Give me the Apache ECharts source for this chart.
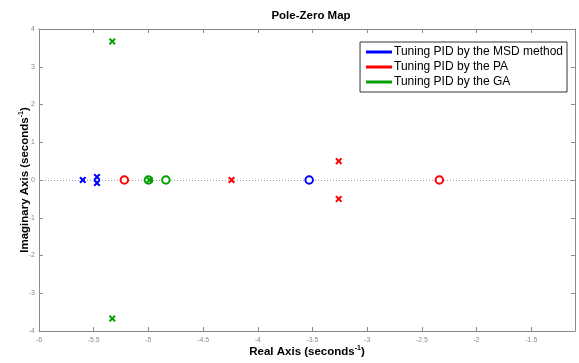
<!DOCTYPE html>
<html>
<head>
<meta charset="utf-8">
<script src="https://cdn.jsdelivr.net/npm/echarts@6/dist/echarts.min.js"></script>
<style>
  html, body { margin: 0; padding: 0; background: #fff; }
  #chart { width: 579px; height: 363px; }
</style>
</head>
<body>
<div id="chart"></div>
<script>
// series names (legend)
const methodNames = ['Tuning PID by the MSD method', 'Tuning PID by the PA', 'Tuning PID by the GA'];
const methodColors = ['#0000ff', '#ff0000', '#00a000'];

// poles / zeros: [real, imag]
const msdPoles = [[-5.6, 0], [-5.47, 0.08], [-5.47, -0.08]];
const msdZeros = [[-3.53, 0]];
const paPoles = [[-4.24, 0], [-3.26, 0.5], [-3.26, -0.5]];
const paZeros = [[-5.22, 0], [-2.34, 0]];
const gaPoles = [[-5.33, 3.67], [-5.33, -3.67], [-4.99, 0]];
const gaZeros = [[-5.0, 0], [-4.84, 0]];

// axis ranges
const xMin = -6, xMax = -1.1, xStep = 0.5;
const yMin = -4, yMax = 4, yStep = 1;

const font = "'Liberation Sans', Arial, sans-serif";
const crossPath = 'path://M2,0L5,3L8,0L10,2L7,5L10,8L8,10L5,7L2,10L0,8L3,5L0,2Z';

const chart = echarts.init(document.getElementById('chart'));

function poleSeries(name, color, data) {
  return {
    name: name,
    type: 'scatter',
    data: data,
    symbol: crossPath,
    symbolSize: 7,
    itemStyle: { color: color, opacity: 1 },
    z: 4
  };
}

function zeroSeries(name, color, data) {
  return {
    name: name,
    type: 'scatter',
    data: data,
    symbol: 'emptyCircle',
    symbolSize: 7.5,
    itemStyle: { color: color, borderColor: color, borderWidth: 2.6, opacity: 1 },
    z: 3
  };
}

const axisGray = '#8a8a8a';
const tickLabel = { color: '#8a8a8a', fontSize: 7, fontFamily: font };

const series = [
  poleSeries(methodNames[0], methodColors[0], msdPoles),
  zeroSeries(methodNames[0], methodColors[0], msdZeros),
  poleSeries(methodNames[1], methodColors[1], paPoles),
  zeroSeries(methodNames[1], methodColors[1], paZeros),
  poleSeries(methodNames[2], methodColors[2], gaPoles),
  zeroSeries(methodNames[2], methodColors[2], gaZeros)
];

// dotted line on the real axis
series[0].markLine = {
  silent: true,
  symbol: 'none',
  label: { show: false },
  lineStyle: { color: '#9a9a9a', type: [1, 2], width: 1 },
  data: [{ yAxis: 0 }],
  z: 1
};

const nameStyle = {
  fontSize: 11.5, fontWeight: 'bold', color: '#000', fontFamily: font,
  rich: { sup: { fontSize: 7, fontWeight: 'bold', color: '#000', fontFamily: font, verticalAlign: 'top', padding: [0, 0, 6, 0] } }
};

const option = {
  animation: false,
  backgroundColor: '#fff',
  title: {
    text: 'Pole-Zero Map',
    left: 306,
    top: 5,
    textAlign: 'center',
    textStyle: { fontSize: 11.5, fontWeight: 'bold', color: '#000', fontFamily: font }
  },
  legend: {
    orient: 'vertical',
    right: 12,
    top: 42,
    data: methodNames.map((n, i) => ({ name: n, icon: 'rect', itemStyle: { color: methodColors[i] } })),
    itemWidth: 26,
    itemHeight: 3,
    itemGap: 1,
    padding: [3, 4, 3, 6],
    borderColor: '#333',
    borderWidth: 1,
    backgroundColor: '#fff',
    textStyle: { fontSize: 12, color: '#000', fontFamily: font, lineHeight: 14, padding: [0, 0, 0, -3] }
  },
  grid: { left: 39, right: 4, top: 29, bottom: 32, outerBoundsMode: 'none', containLabel: false },
  xAxis: [
    {
      type: 'value',
      min: xMin, max: xMax, interval: xStep,
      name: 'Real Axis (seconds{sup|-1})',
      nameLocation: 'middle',
      nameGap: 14,
      nameMoveOverlap: false,
      nameTextStyle: nameStyle,
      axisLine: { show: true, onZero: false, lineStyle: { color: axisGray } },
      axisTick: { show: true, inside: true, length: 4, lineStyle: { color: axisGray } },
      axisLabel: Object.assign({ showMaxLabel: false, margin: 6 }, tickLabel),
      splitLine: { show: false }
    },
    {
      type: 'value', position: 'top',
      min: xMin, max: xMax, interval: xStep,
      axisLine: { show: true, onZero: false, lineStyle: { color: axisGray } },
      axisTick: { show: true, inside: true, length: 4, lineStyle: { color: axisGray } },
      axisLabel: { show: false },
      splitLine: { show: false }
    }
  ],
  yAxis: [
    {
      type: 'value',
      min: yMin, max: yMax, interval: yStep,
      name: 'Imaginary Axis (seconds{sup|-1})',
      nameLocation: 'middle',
      nameGap: 8,
      nameMoveOverlap: false,
      nameTextStyle: nameStyle,
      axisLine: { show: true, onZero: false, lineStyle: { color: axisGray } },
      axisTick: { show: true, inside: true, length: 4, lineStyle: { color: axisGray } },
      axisLabel: Object.assign({ margin: 4 }, tickLabel),
      splitLine: { show: false }
    },
    {
      type: 'value', position: 'right',
      min: yMin, max: yMax, interval: yStep,
      axisLine: { show: true, onZero: false, lineStyle: { color: axisGray } },
      axisTick: { show: true, inside: true, length: 4, lineStyle: { color: axisGray } },
      axisLabel: { show: false },
      splitLine: { show: false }
    }
  ],
  series: series
};

chart.setOption(option);
</script>
</body>
</html>
